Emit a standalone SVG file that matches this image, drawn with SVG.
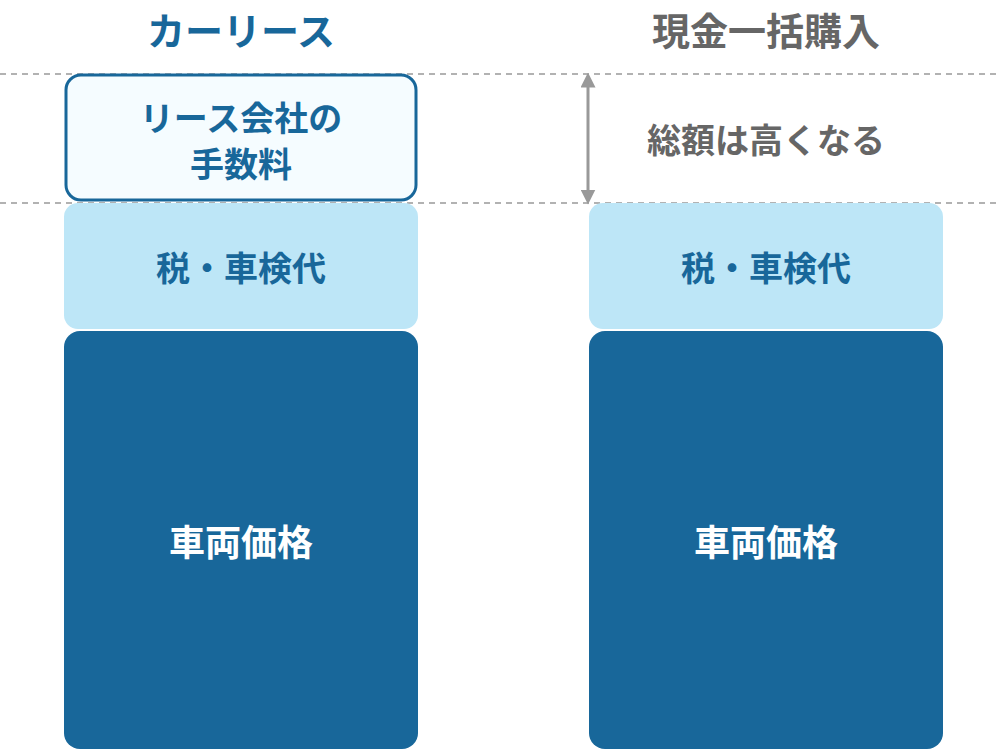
<svg xmlns="http://www.w3.org/2000/svg" width="1000" height="750" viewBox="0 0 1000 750">
<style>
.t{font-family:"Noto Sans CJK JP",sans-serif;font-weight:700;text-anchor:middle;dominant-baseline:central}
.dash{stroke:#999;stroke-width:1.5;stroke-dasharray:6 5;fill:none}
.tax{fill:#bde6f7}
.car{fill:#18679a}
</style>
<defs>
<marker id="ah" viewBox="0 0 10 10" refX="5" refY="5" markerWidth="5" markerHeight="5" orient="auto-start-reverse"><path d="M0,0 L10,5 L0,10 z" fill="#999"/></marker>
</defs>
<rect width="1000" height="750" fill="#fff"/>
<g id="guides">
<line class="dash" x1="0" y1="74" x2="1000" y2="74"/>
<line class="dash" x1="0" y1="203" x2="1000" y2="203"/>
</g>
<g id="title-left"><text class="t" x="241" y="28" font-size="38" fill="#18679a">カーリース</text></g>
<g id="title-right"><text class="t" x="766" y="28" font-size="38" fill="#666">現金一括購入</text></g>
<g id="fee"><rect x="66" y="75" width="350" height="125" rx="15" fill="#f5fcff" stroke="#18679a" stroke-width="3"/>
<text class="t" x="241" y="116" font-size="34" fill="#18679a">リース会社の</text>
<text class="t" x="241" y="162" font-size="34" fill="#18679a">手数料</text></g>
<g id="tax-left"><rect class="tax" x="64" y="203" width="354" height="126" rx="14"/><text class="t" x="241" y="266" font-size="34" fill="#18679a">税・車検代</text></g>
<g id="car-left"><rect class="car" x="64" y="331" width="354" height="418" rx="16"/><text class="t" x="241" y="540" font-size="36" fill="#fff">車両価格</text></g>
<g id="tax-right"><rect class="tax" x="589" y="203" width="354" height="126" rx="14"/><text class="t" x="766" y="266" font-size="34" fill="#18679a">税・車検代</text></g>
<g id="car-right"><rect class="car" x="589" y="331" width="354" height="418" rx="16"/><text class="t" x="766" y="540" font-size="36" fill="#fff">車両価格</text></g>
<g id="connectors"><line x1="588" y1="80" x2="588" y2="197" stroke="#999" stroke-width="3" marker-start="url(#ah)" marker-end="url(#ah)"/></g>
<g id="note"><text class="t" x="766" y="138" font-size="34" fill="#666">総額は高くなる</text></g>
</svg>
